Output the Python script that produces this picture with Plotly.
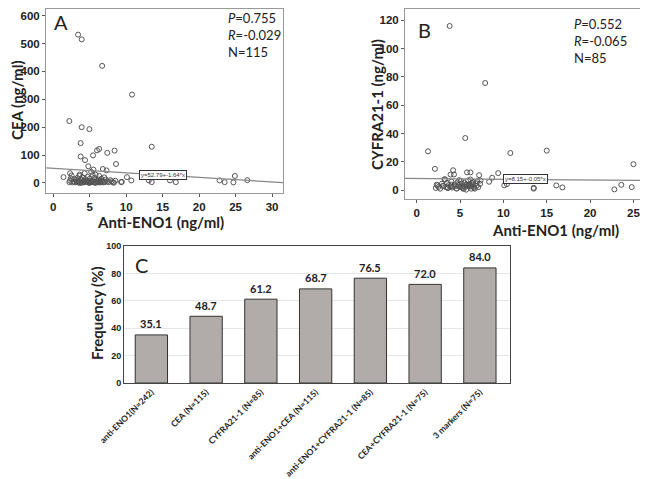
import plotly.graph_objects as go

# Panel A: anti-ENO1 vs CEA
cea_x = [3.4, 3.9, 6.7, 10.8, 2.2, 3.9, 4.95, 3.75, 13.5, 3.75, 4.35, 6.0, 6.3, 5.45, 7.4, 8.4, 8.6,
         4.8, 5.5, 6.8, 7.3, 1.4, 2.3, 10.1, 10.7, 9.4, 13.5, 13.1, 16.0, 16.8, 22.8, 23.5, 24.7, 24.9, 26.6,
         2.2, 2.3, 2.4, 2.5, 2.6, 2.8, 3.0, 3.1, 3.2, 3.3, 3.4, 3.5, 3.6, 3.6, 3.7, 3.8, 3.9, 4.0, 4.1, 4.2,
         4.3, 4.4, 4.5, 4.6, 4.7, 4.8, 4.9, 5.0, 5.1, 5.2, 5.3, 5.4, 5.5, 5.6, 5.7, 5.8, 5.9, 6.0, 6.1, 6.2,
         6.3, 6.4, 6.5, 6.6, 6.7, 6.8, 7.0, 7.2, 7.4, 7.6, 7.8, 8.0, 8.2, 8.5, 9.3, 3.8, 4.9, 5.8, 6.9, 2.9,
         3.5, 4.2, 5.0, 5.7, 6.4, 7.1, 8.3, 4.5, 5.3, 6.1]
cea_y = [532, 515, 420, 317, 222, 200, 193, 143, 130, 95, 82, 117, 122, 99, 108, 116, 68,
         60, 48, 50, 45, 21, 35, 21, 9, 4, 3, 9, 9, 3, 9, 3, 2, 25, 10,
         3, 8, 16, 27, 2, 5, 2, 10, 4, 18, 6, 2, 25, 30, 5, 12, 3, 20, 7, 2,
         35, 14, 4, 9, 22, 3, 6, 15, 2, 40, 8, 28, 4, 18, 2, 30, 10, 5, 2, 12,
         25, 6, 3, 15, 8, 4, 20, 12, 5, 3, 10, 6, 2, 8, 3, 0, 0, 1, 2, 14,
         1, 3, 4, 1, 2, 4, 1, 6, 3, 7]
cea_fit = (52.79, -1.64)

# Panel B: anti-ENO1 vs CYFRA21-1
cyf_x = [3.8, 7.9, 5.6, 1.3, 10.8, 15.0, 25.0, 2.1, 9.4, 5.8, 6.2, 4.2, 3.9, 4.3, 7.2, 8.7, 8.35, 7.35,
         3.2, 3.3, 10.1, 10.4, 13.5, 13.5, 16.1, 16.8, 22.8, 23.6, 24.8,
         2.2, 2.3, 2.5, 2.7, 2.9, 3.0, 3.4, 3.5, 3.6, 3.7, 3.9, 4.0, 4.1, 4.4, 4.5, 4.6, 4.7, 4.8, 5.0,
         5.1, 5.2, 5.3, 5.4, 5.5, 5.6, 5.7, 5.8, 5.9, 6.0, 6.1, 6.2, 6.3, 6.4, 6.5, 6.6, 6.7, 6.8,
         6.9, 7.0, 7.1, 4.9, 5.4, 6.0, 3.6, 4.2, 5.7, 6.4, 2.4, 3.1, 4.6, 5.9, 6.6, 7.3, 5.2, 4.0, 6.2]
cyf_y = [116, 75.7, 36.8, 27.4, 26.2, 27.9, 18.3, 15, 12, 12.5, 12.5, 14, 11, 11, 10.5, 8.7, 5.9, 6.8,
         7.7, 7.5, 3.3, 4.2, 1.6, 1.0, 3.3, 1.9, 0.5, 3.7, 2.1,
         1.5, 3.8, 2.2, 1.0, 4.5, 3.0, 2.0, 5.0, 1.4, 3.5, 2.5, 6.0, 1.8, 4.0, 2.8, 1.2, 5.5, 3.2, 2.0,
         6.5, 4.5, 1.5, 3.0, 5.2, 2.2, 0.3, 3.8, 6.8, 2.7, 4.2, 7.5, 1.0, 3.5, 5.8, 2.4, 1.0, 4.8,
         3.0, 6.2, 2.1, 7.0, 0.8, 3.6, 1.8, 2.6, 4.0, 5.0, 3.4, 2.9, 1.1, 3.1, 1.6, 4.4, 2.3, 3.9, 2.6]
cyf_fit = (8.15, -0.05)

# Panel C: frequency bars
groups = ['anti-ENO1(N=242)', 'CEA (N=115)', 'CYFRA21-1 (N=85)', 'anti-ENO1+CEA (N=115)',
          'anti-ENO1+CYFRA21-1 (N=85)', 'CEA+CYFRA21-1 (N=75)', '3 markers (N=75)']
freq = [35.1, 48.7, 61.2, 68.7, 76.5, 72.0, 84.0]

a_xrange = [-1.0, 31.5]
b_xrange = [-1.35, 26.1]

# the page body adds an 8px margin, so the figure is a bit smaller and offset
OFF = 8
W, H = 648 - OFF, 479 - OFF
def px_x(p):
    return (p - OFF) / W
def px_y(p):
    return 1 - (p - OFF) / H

tick_font = dict(family='Liberation Sans, Arial', size=11.5, color='#222', weight='bold')
title_font = dict(family='Lato, Open Sans', size=15, color='#222', weight='bold')
note_font = dict(family='Lato, Open Sans', size=13, color='#222')

fig = go.Figure()

marker = dict(symbol='circle-open', size=5, color='#555', line=dict(width=1, color='#555'))
fig.add_trace(go.Scatter(x=cea_x, y=cea_y, mode='markers', marker=marker,
                         xaxis='x', yaxis='y', showlegend=False))
fig.add_trace(go.Scatter(x=a_xrange, y=[cea_fit[0] + cea_fit[1] * v for v in a_xrange], mode='lines',
                         line=dict(color='#888', width=1.2), xaxis='x', yaxis='y', showlegend=False))
fig.add_trace(go.Scatter(x=cyf_x, y=cyf_y, mode='markers', marker=marker,
                         xaxis='x2', yaxis='y2', showlegend=False))
fig.add_trace(go.Scatter(x=b_xrange, y=[cyf_fit[0] + cyf_fit[1] * v for v in b_xrange], mode='lines',
                         line=dict(color='#888', width=1.2), xaxis='x2', yaxis='y2', showlegend=False))
fig.add_trace(go.Bar(x=groups, y=freq, marker=dict(color='#b1aca9', line=dict(color='#333', width=1)),
                     xaxis='x3', yaxis='y3', showlegend=False))

box = dict(showline=True, linecolor='#999', linewidth=1, mirror=True, ticks='outside',
           ticklen=3, tickcolor='#555', showgrid=False, zeroline=False, tickfont=tick_font,
           automargin=False, ticklabeloverflow='allow')

fig.update_layout(
    width=W, height=H, margin=dict(l=0, r=0, t=0, b=0),
    plot_bgcolor='white', paper_bgcolor='white',
    xaxis=dict(box, domain=[px_x(46), px_x(283)], range=a_xrange, tickvals=[0, 5, 10, 15, 20, 25, 30],
               anchor='y'),
    yaxis=dict(box, domain=[px_y(193), px_y(9)], range=[-36, 624], tickvals=[0, 100, 200, 300, 400, 500, 600],
               anchor='x'),
    xaxis2=dict(box, domain=[px_x(405), px_x(643)], range=b_xrange, tickvals=[0, 5, 10, 15, 20, 25],
                anchor='y2'),
    yaxis2=dict(box, domain=[px_y(199), px_y(9)], range=[-6.3, 128], tickvals=[0, 20, 40, 60, 80, 100, 120],
                anchor='x2'),
    xaxis3=dict(domain=[px_x(124), px_x(510)], range=[-0.5, 6.55], anchor='y3', tickangle=-45,
                showline=True, linecolor='#444', mirror=True, ticks='', automargin=False,
                tickfont=dict(family='Lato, Open Sans', size=8.5, color='#222', weight='bold')),
    yaxis3=dict(domain=[px_y(383), px_y(246)], range=[0, 100], anchor='x3', tickvals=[0, 20, 40, 60, 80, 100],
                showline=True, linecolor='#444', mirror=True, ticks='', showgrid=True, gridcolor='#e6e6e6',
                automargin=False,
                tickfont=dict(family='Liberation Sans, Arial', size=9, color='#222', weight='bold')),
    bargap=0.41,
)

ann = []
def paper_text(text, xp, yp, font, angle=0, xanchor='center'):
    ann.append(dict(text=text, x=px_x(xp), y=px_y(yp), xref='paper', yref='paper', xanchor=xanchor,
                    yanchor='middle', showarrow=False, textangle=angle, font=font, align='left'))

# axis titles
paper_text('Anti-ENO1 (ng/ml)', 160, 222, title_font)
paper_text('CEA (ng/ml)', 17, 100, title_font, angle=-90)
paper_text('Anti-ENO1 (ng/ml)', 555, 230, title_font)
paper_text('CYFRA21-1 (ng/ml)', 377, 105, title_font, angle=-90)
paper_text('Frequency (%)', 97, 313, title_font, angle=-90)
# panel letters
for letter, xp, yp in [('A', 61, 22), ('B', 424, 30), ('C', 141, 265)]:
    paper_text(letter, xp, yp, dict(family='Lato, Open Sans', size=20, color='#222'))
# stats
stats_a = ['<i>P</i>=0.755', '<i>R</i>=-0.029', 'N=115']
stats_b = ['<i>P</i>=0.552', '<i>R</i>=-0.065', 'N=85']
paper_text('<br>'.join(stats_a), 226, 35, note_font, xanchor='left')
paper_text('<br>'.join(stats_b), 572, 41, note_font, xanchor='left')
# fit equation boxes
ann.append(dict(text='y=52.79+-1.64*x', x=15.1, y=29, xref='x', yref='y', showarrow=False,
                font=dict(family='Liberation Sans', size=6, color='#333'), bgcolor='white',
                bordercolor='#333', borderwidth=1, borderpad=1))
ann.append(dict(text='y=8.15+-0.05*x', x=12.55, y=8, xref='x2', yref='y2', showarrow=False,
                font=dict(family='Liberation Sans', size=6, color='#333'), bgcolor='white',
                bordercolor='#333', borderwidth=1, borderpad=1))
# bar value labels
for g, v in zip(groups, freq):
    ann.append(dict(text=f'{v:.1f}', x=g, y=v, xref='x3', yref='y3', showarrow=False, yshift=11,
                    font=dict(family='Lato, Open Sans', size=11, color='#222', weight='bold')))

fig.update_layout(annotations=ann)
fig.write_html("out.html")
